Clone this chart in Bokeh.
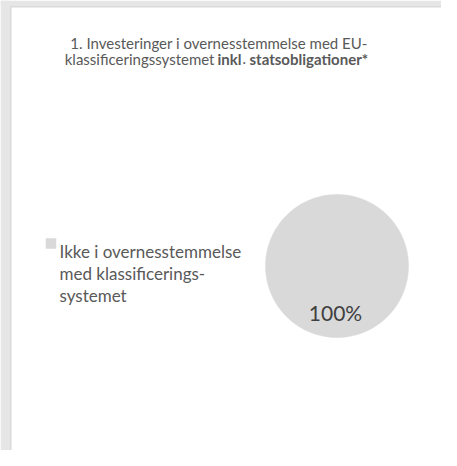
import math
from bokeh.plotting import figure
from bokeh.models import Range1d, ColumnDataSource
from bokeh.core.properties import value
from bokeh.embed import file_html
from bokeh.resources import INLINE

# ---- data ----
categories = ["Ikke i overnesstemmelse med klassificerings-systemet"]
values = [100]
colors = ["#d9d9d9"]
legend_lines = ["Ikke i overnesstemmelse", "med klassificerings-", "systemet"]
title_line1 = "1. Investeringer i overnesstemmelse med EU-"
title_line2_parts = ["klassificeringssystemet", "inkl", ".", "statsobligationer*"]
title_line2_bold = [False, True, False, True]

W, H = 441, 450
FONT = "Lato"
TEXT_COLOR = "#595959"

p = figure(width=W, height=H, output_backend="svg", toolbar_location=None,
           x_range=Range1d(0, W), y_range=Range1d(H, 0),
           min_border=0, outline_line_color=None,
           background_fill_color="white", border_fill_color="white")
p.axis.visible = False
p.grid.visible = False

# page background edges (gray frame top/left)
p.quad(left=[0], right=[9.5], top=[0], bottom=[H], fill_color="#e6e6e6", line_color=None)
p.quad(left=[0], right=[W], top=[0], bottom=[5.5], fill_color="#e6e6e6", line_color=None)
p.quad(left=[9.5], right=[11], top=[5.5], bottom=[H], fill_color="#dadada", line_color=None)
p.quad(left=[9.5], right=[W], top=[5.5], bottom=[7], fill_color="#dadada", line_color=None)

# ---- pie ----
total = float(sum(values))
cx, cy, r = 336.5, 265.5, 71.5
starts, ends = [], []
acc = 0.0
for v in values:
    a0 = math.pi / 2 - 2 * math.pi * acc / total
    acc += v
    a1 = math.pi / 2 - 2 * math.pi * acc / total
    starts.append(a1)
    ends.append(a0 - 1e-6 if abs(a0 - a1) >= 2 * math.pi - 1e-9 else a0)
src = ColumnDataSource(dict(x=[cx] * len(values), y=[cy] * len(values),
                            start=starts, end=ends, color=colors, cat=categories))
p.wedge(x="x", y="y", radius=r, start_angle="start", end_angle="end",
        fill_color="color", line_color="color", line_width=0.5, source=src)

# data label
pct = [f"{v / total * 100:.0f}%" for v in values]
p.text(x=[cx - 1.5], y=[cy + 46.5], text=pct, text_font=value(FONT),
       text_font_size="21px", text_color="#404040", text_align="center",
       text_baseline="alphabetic")

# ---- title ----
TS = "15px"
p.text(x=[218.5], y=[42], text=[title_line1], text_font=value(FONT),
       text_font_size=TS, text_color=TEXT_COLOR, text_align="center",
       text_baseline="alphabetic")
xs2 = [214, 217, 242, 249]
al2 = ["right", "left", "left", "left"]
for t, b, x, a in zip(title_line2_parts, title_line2_bold, xs2, al2):
    p.text(x=[x], y=[58], text=[t], text_font=value(FONT), text_font_size=TS,
           text_font_style="bold" if b else "normal", text_color=TEXT_COLOR,
           text_align=a, text_baseline="alphabetic")

# ---- legend ----
p.rect(x=[50.5], y=[243], width=10.5, height=10.5, fill_color=colors[0], line_color=None)
for i, line in enumerate(legend_lines):
    p.text(x=[59], y=[251 + 22 * i], text=[line], text_font=value(FONT),
           text_font_size="17px", text_color=TEXT_COLOR, text_align="left",
           text_baseline="alphabetic")

open("out.html", "w").write(file_html(p, INLINE))
